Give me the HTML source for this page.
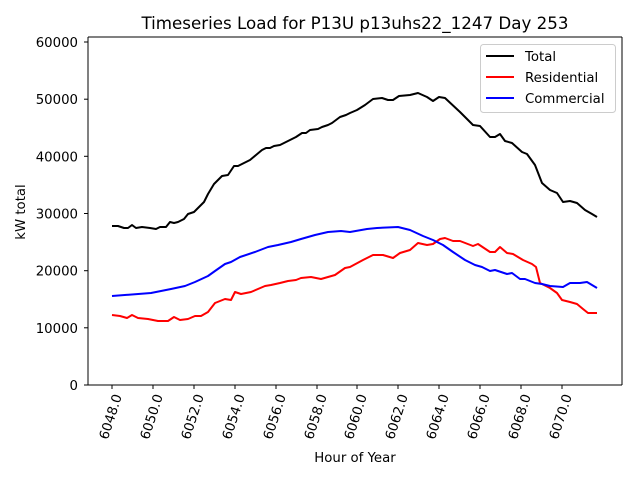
<!DOCTYPE html>
<html><head><meta charset="utf-8"><style>body{margin:0;background:#fff}svg{display:block;font-family:"DejaVu Sans","Liberation Sans",sans-serif}</style></head>
<body>
<svg width="640" height="480" viewBox="0 0 640 480">
<rect width="640" height="480" fill="#fff"/>
<text x="355" y="29" font-size="16.7" text-anchor="middle">Timeseries Load for P13U p13uhs22_1247  Day 253</text>
<g stroke="#000" stroke-width="1">
<line x1="88" y1="385" x2="88" y2="37"/><line x1="88" y1="37" x2="622" y2="37"/><line x1="622" y1="37" x2="622" y2="385"/><line x1="88" y1="385" x2="622" y2="385"/>
</g>
<g font-size="13.3" text-anchor="end">
<g stroke="#000"><line x1="84" y1="385" x2="88" y2="385"/><line x1="84" y1="327.8" x2="88" y2="327.8"/><line x1="84" y1="270.7" x2="88" y2="270.7"/><line x1="84" y1="213.5" x2="88" y2="213.5"/><line x1="84" y1="156.3" x2="88" y2="156.3"/><line x1="84" y1="99.2" x2="88" y2="99.2"/><line x1="84" y1="42" x2="88" y2="42"/></g>
<text x="78" y="390">0</text><text x="78" y="332.8">10000</text><text x="78" y="275.7">20000</text><text x="78" y="218.5">30000</text><text x="78" y="161.3">40000</text><text x="78" y="104.2">50000</text><text x="78" y="47">60000</text>
</g>
<g stroke="#000">
<line x1="112" y1="385" x2="112" y2="389"/><line x1="153" y1="385" x2="153" y2="389"/><line x1="194" y1="385" x2="194" y2="389"/><line x1="235" y1="385" x2="235" y2="389"/><line x1="276" y1="385" x2="276" y2="389"/><line x1="317" y1="385" x2="317" y2="389"/><line x1="357" y1="385" x2="357" y2="389"/><line x1="398" y1="385" x2="398" y2="389"/><line x1="439" y1="385" x2="439" y2="389"/><line x1="480" y1="385" x2="480" y2="389"/><line x1="521" y1="385" x2="521" y2="389"/><line x1="562" y1="385" x2="562" y2="389"/>
</g>
<g font-size="13.3" text-anchor="end">
<text transform="translate(122,396) rotate(-72)">6048.0</text>
<text transform="translate(163,396) rotate(-72)">6050.0</text>
<text transform="translate(204,396) rotate(-72)">6052.0</text>
<text transform="translate(245,396) rotate(-72)">6054.0</text>
<text transform="translate(286,396) rotate(-72)">6056.0</text>
<text transform="translate(327,396) rotate(-72)">6058.0</text>
<text transform="translate(367,396) rotate(-72)">6060.0</text>
<text transform="translate(408,396) rotate(-72)">6062.0</text>
<text transform="translate(449,396) rotate(-72)">6064.0</text>
<text transform="translate(490,396) rotate(-72)">6066.0</text>
<text transform="translate(531,396) rotate(-72)">6068.0</text>
<text transform="translate(572,396) rotate(-72)">6070.0</text>
</g>
<text x="355" y="462" font-size="13.3" text-anchor="middle">Hour of Year</text>
<text transform="translate(25,212) rotate(-90)" font-size="13.3" text-anchor="middle">kW total</text>
<g fill="none" stroke-width="2" stroke-linejoin="round">
<polyline stroke="#000" points="112,226 118,226 124,228 128,228 132,225 136,228 142,227 150,228 156,229 160,227 166,227 170,222 174,223 178,222 184,219 188,214 194,212 200,206 204,202 208,194 214,184 218,180 222,176 228,175 234,166 238,166 244,163 250,160 256,155 262,150 266,148 270,148 274,146 280,145 286,142 292,139 296,137 302,133 306,133 310,130 318,129 322,127 328,125 332,123 336,120 340,117 346,115 350,113 357,110 365,105 373,99 382,98 388,100 393,100 399,96 410,95 418,93 427,97 433,101 439,97 445,98 460,112 473,125 480,126 490,137 495,137 500,134 505,141 512,143 522,152 527,154 535,165 542,183 550,190 557,193 563,202 570,201 577,203 585,210 592,214 597,217"/>
<polyline stroke="#f00" points="112,315 120,316 127,318 132,315 138,318 148,319 158,321 168,321 174,317 180,320 188,319 195,316 201,316 208,312 215,303 225,299 231,300 235,292 241,294 251,292 265,286 271,285 280,283 288,281 296,280 301,278 311,277 321,279 328,277 335,275 345,268 350,267 363,260 373,255 383,255 393,258 400,253 410,250 418,243 427,245 433,244 440,239 445,238 453,241 460,241 473,246 478,244 490,252 495,252 500,247 507,253 513,254 523,260 532,264 536,267 540,283 550,288 557,293 562,300 570,302 577,304 583,309 588,313 597,313"/>
<polyline stroke="#00f" points="112,296 151,293 171,289 185,286 195,282 208,276 215,271 225,264 231,262 240,257 255,252 268,247 278,245 291,242 301,239 315,235 328,232 341,231 350,232 367,229 377,228 398,227 410,230 423,236 433,240 443,245 453,252 465,260 475,265 482,267 490,271 495,270 507,274 512,273 520,279 525,279 535,283 542,284 550,286 563,287 570,283 580,283 587,282 597,288"/>
</g>
<rect x="480.5" y="44.5" width="135" height="68" rx="3" fill="#fff" fill-opacity="0.8" stroke="#ccc"/>
<g stroke-width="2"><line x1="486" y1="56" x2="514" y2="56" stroke="#000"/><line x1="486" y1="77" x2="514" y2="77" stroke="#f00"/><line x1="486" y1="98" x2="514" y2="98" stroke="#00f"/></g>
<g font-size="13.3"><text x="525" y="61">Total</text><text x="525" y="82">Residential</text><text x="525" y="103">Commercial</text></g>
</svg>
</body></html>
